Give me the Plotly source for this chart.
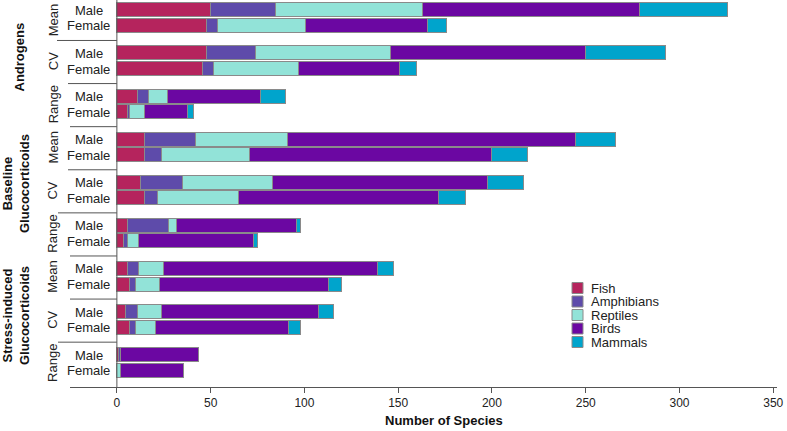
import plotly.graph_objects as go

hormones = ["Androgens", "Baseline<br>Glucocorticoids", "Stress-induced<br>Glucocorticoids"]
metrics = ["Mean", "CV", "Range"]
sexes = ["Male", "Female"]
taxa = ["Fish", "Amphibians", "Reptiles", "Birds", "Mammals"]
colors = ["#B5245D", "#5E4BAA", "#92E3D8", "#6B07A2", "#00A4CC"]

# rows ordered: hormone -> metric -> sex (Male, Female)
fish = [50, 48, 48, 46, 11, 6,
        15, 15, 13, 15, 6, 4,
        6, 7, 5, 7, 1, 0]
amphibians = [35, 6, 26, 6, 6, 1,
              27, 9, 22, 7, 22, 2,
              6, 3, 6, 3, 1, 0]
reptiles = [78, 47, 72, 45, 10, 8,
            49, 47, 48, 43, 4, 6,
            13, 13, 13, 11, 0, 2]
birds = [116, 65, 104, 54, 50, 23,
         154, 129, 115, 107, 64, 61,
         114, 90, 84, 71, 42, 34]
mammals = [47, 10, 43, 9, 13, 3,
           21, 19, 19, 14, 2, 2,
           9, 7, 8, 6, 0, 0]
series = [fish, amphibians, reptiles, birds, mammals]

FEM_OFF = 0.364
ypos = []
for g in range(9):
    ypos += [g, g + FEM_OFF]

FONT = "Liberation Sans, Arial, sans-serif"
fig = go.Figure()
for name, vals, col in zip(taxa, series, colors):
    fig.add_trace(go.Bar(
        x=vals, y=ypos, orientation="h", name=name, width=0.325,
        marker=dict(color=col, line=dict(color="#8a8a8a", width=1)),
        showlegend=False, hoverinfo="x+name",
    ))

XMIN, XMAX = -25, 352
PL, PR, PT, PB = 70, 777, 0, 387
def px_x(p):
    return (p - PL) / (PR - PL)
def px_y(p):
    return 1 - (p - PT) / (PB - PT)

shapes = []
annotations = []
# vertical line at x=0
shapes.append(dict(type="line", xref="x", yref="paper", x0=0, x1=0, y0=0, y1=1,
                   line=dict(color="#555555", width=1)))
# separators (hand-drawn style: differing start points)
sep_start = [57, 68, 70, 68, 58, 70, 70, 58]
for k in range(8):
    shapes.append(dict(type="line", xref="paper", yref="y", x0=px_x(sep_start[k]),
                       x1=(0 - XMIN) / (XMAX - XMIN),
                       y0=k + 0.70, y1=k + 0.70, line=dict(color="#555555", width=1)))
# sex labels
for g in range(9):
    for s, sx in enumerate(sexes):
        annotations.append(dict(text=sx, xref="paper", yref="y", x=px_x(88.5), y=g + s * FEM_OFF,
                                xanchor="center", yanchor="middle", showarrow=False,
                                font=dict(family=FONT, size=13, color="#222")))
# metric labels
for g in range(9):
    yy = g + FEM_OFF / 2 + (0.05 if g == 0 else 0)
    annotations.append(dict(text=metrics[g % 3], xref="paper", yref="y", x=px_x(53), y=yy,
                            xanchor="center", yanchor="middle", textangle=-90, showarrow=False,
                            font=dict(family=FONT, size=13, color="#222")))
# hormone labels
hx = [19, 16, 16]
hy = [56.5, 184, 316]
for h, name in enumerate(hormones):
    annotations.append(dict(text="<b>" + name + "</b>", xref="paper", yref="paper", x=px_x(hx[h]),
                            y=px_y(hy[h]),
                            xanchor="center", yanchor="middle", textangle=-90, showarrow=False,
                            font=dict(family=FONT, size=13, color="#111")))
# x axis title
annotations.append(dict(text="<b>Number of Species</b>", xref="paper", yref="paper", x=px_x(444), y=px_y(420),
                        xanchor="center", yanchor="middle", showarrow=False,
                        font=dict(family=FONT, size=13, color="#111")))
# manual legend
for i, (name, col) in enumerate(zip(taxa, colors)):
    cy = 288 + i * 13.5
    shapes.append(dict(type="rect", xref="paper", yref="paper", x0=px_x(572), x1=px_x(583),
                       y0=px_y(cy + 5.5), y1=px_y(cy - 5.5), fillcolor=col,
                       line=dict(color="#8a8a8a", width=1)))
    annotations.append(dict(text=name, xref="paper", yref="paper", x=px_x(589), y=px_y(cy),
                            xanchor="left", yanchor="middle", showarrow=False,
                            font=dict(family=FONT, size=13, color="#222")))

fig.update_layout(
    width=787, height=431,
    margin=dict(l=PL, r=787 - PR, t=PT, b=431 - PB),
    paper_bgcolor="white", plot_bgcolor="white",
    barmode="stack", bargap=0,
    shapes=shapes, annotations=annotations,
    xaxis=dict(range=[XMIN, XMAX], tickvals=[0, 50, 100, 150, 200, 250, 300, 350],
               showgrid=False, zeroline=False, showline=True, linecolor="#555555", linewidth=1,
               ticks="outside", ticklen=5, tickcolor="#555555",
               tickfont=dict(family=FONT, size=12, color="#222")),
    yaxis=dict(range=[(PB - 10.3) / 43.1, -10.3 / 43.1], visible=False),
)

fig.write_html("out.html", config={"displayModeBar": False},
               post_script="document.body.style.margin='0';document.body.style.overflow='hidden';")
